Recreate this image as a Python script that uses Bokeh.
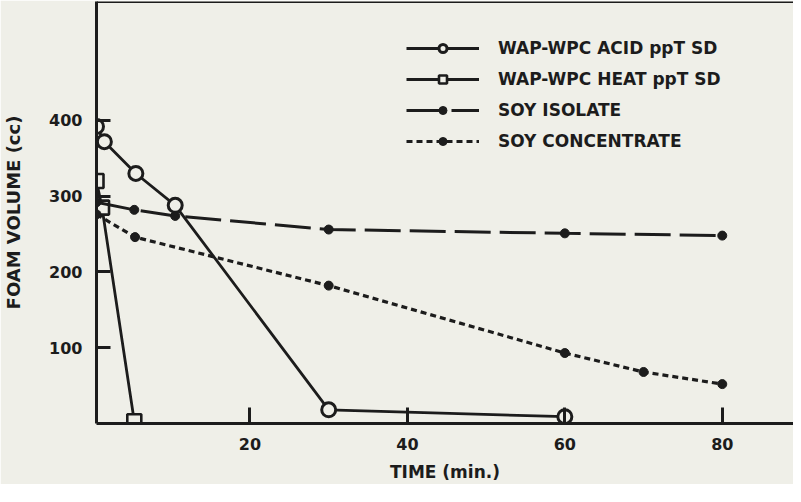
from bokeh.plotting import figure
from bokeh.models import Range1d, Span, Legend, LegendItem, FixedTicker
from bokeh.embed import file_html
from bokeh.resources import INLINE

# ---- data ----
acid_t = [0.5, 1.5, 5.5, 10.5, 30, 60]
acid_v = [392, 372, 330, 288, 18, 9]

heat_t = [0.5, 1.2, 5.3]
heat_v = [320, 285, 3]

iso_t = [0.5, 5.3, 10.5, 30, 60, 80]
iso_v = [292, 282, 274, 256, 251, 248]

conc_t = [0.5, 5.4, 30, 60, 70, 80]
conc_v = [276, 246, 182, 93, 68, 52]

x_ticks = [20, 40, 60, 80]
y_ticks = [100, 200, 300, 400]

series_names = ["WAP-WPC ACID ppT SD", "WAP-WPC HEAT ppT SD",
                "SOY ISOLATE", "SOY CONCENTRATE"]

BG = "#efefe8"
INK = "#1c1c1c"
FONT = "DejaVu Sans"

p = figure(width=793, height=484, output_backend="svg", toolbar_location=None,
           x_range=Range1d(0.5, 89.05), y_range=Range1d(0, 557),
           min_border_left=89, min_border_right=0, min_border_top=1,
           min_border_bottom=57)
p.background_fill_color = BG
p.border_fill_color = BG
p.outline_line_color = None
p.grid.visible = False

for ax in (p.xaxis[0], p.yaxis[0]):
    ax.axis_line_width = 3
    ax.axis_line_color = INK
    ax.major_tick_line_width = 3
    ax.major_tick_line_color = INK
    ax.minor_tick_line_color = None
    ax.major_tick_out = 0
    ax.major_label_text_font = FONT
    ax.major_label_text_font_style = "bold"
    ax.major_label_text_color = INK
    ax.axis_label_text_font = FONT
    ax.axis_label_text_font_style = "bold"
    ax.axis_label_text_color = INK
    ax.major_label_standoff = 14

p.xaxis.ticker = FixedTicker(ticks=x_ticks)
p.yaxis.ticker = FixedTicker(ticks=y_ticks)
p.xaxis.major_tick_in = 16
p.yaxis.major_tick_in = 14
p.xaxis.major_label_text_font_size = "16px"
p.yaxis.major_label_text_font_size = "16px"
p.xaxis.axis_label = "TIME (min.)"
p.yaxis.axis_label = "FOAM VOLUME (cc)"
p.xaxis.axis_label_text_font_size = "17px"
p.yaxis.axis_label_text_font_size = "18px"
p.xaxis.axis_label_standoff = 9
p.yaxis.axis_label_standoff = 22

top = Span(location=557, dimension="width", line_color=INK, line_width=3)
p.add_layout(top)

# series
r_acid_l = p.line(acid_t, acid_v, line_color=INK, line_width=2.8)
r_acid_m = p.scatter(acid_t, acid_v, marker="circle", size=14, line_color=INK,
                     line_width=3, fill_color=BG)

r_heat_l = p.line(heat_t, heat_v, line_color=INK, line_width=2.8)
r_heat_m = p.scatter(heat_t, heat_v, marker="square", size=14, line_color=INK,
                     line_width=2.6, fill_color=BG)

r_iso_l = p.line(iso_t, iso_v, line_color=INK, line_width=3, line_dash="36 9")
r_iso_m = p.scatter(iso_t, iso_v, marker="circle", size=9, line_color=INK,
                    fill_color=INK)

r_conc_l = p.line(conc_t, conc_v, line_color=INK, line_width=3.2, line_dash="6 4")
r_conc_m = p.scatter(conc_t, conc_v, marker="circle", size=9, line_color=INK,
                     fill_color=INK)

legend = Legend(items=[
    LegendItem(label=series_names[0], renderers=[r_acid_l, r_acid_m]),
    LegendItem(label=series_names[1], renderers=[r_heat_l, r_heat_m]),
    LegendItem(label=series_names[2], renderers=[r_iso_l, r_iso_m]),
    LegendItem(label=series_names[3], renderers=[r_conc_l, r_conc_m]),
], location=(310, 272))
legend.background_fill_alpha = 0
legend.border_line_color = None
legend.padding = 0
legend.margin = 0
legend.spacing = 11
legend.glyph_width = 73
legend.glyph_height = 20
legend.label_height = 20
legend.label_standoff = 19
legend.label_text_font = FONT
legend.label_text_font_style = "bold"
legend.label_text_font_size = "17px"
legend.label_text_color = INK
p.add_layout(legend)

open("out.html", "w").write(file_html(p, INLINE))
